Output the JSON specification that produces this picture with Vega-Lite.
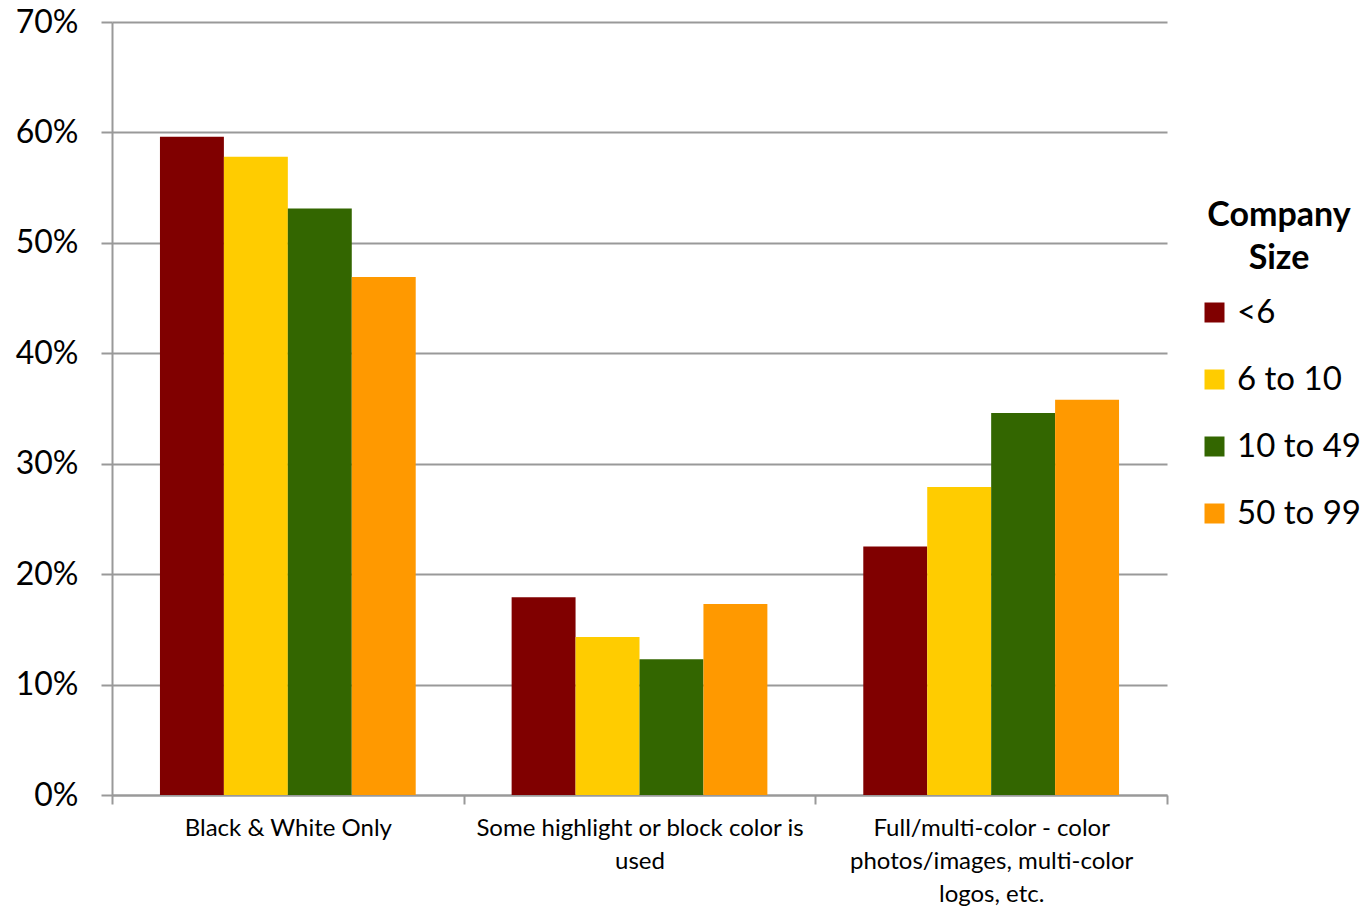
{
  "$schema": "https://vega.github.io/schema/vega-lite/v6.json",
  "autosize": "none",
  "width": 1055,
  "height": 773,
  "padding": {"left": 112, "top": 22, "right": 196, "bottom": 113},
  "background": "white",
  "data": {
    "values": [
      {"category": "Black & White Only", "size": "<6", "share": 0.596},
      {"category": "Black & White Only", "size": "6 to 10", "share": 0.578},
      {"category": "Black & White Only", "size": "10 to 49", "share": 0.531},
      {"category": "Black & White Only", "size": "50 to 99", "share": 0.469},
      {"category": "Some highlight or block color is used", "size": "<6", "share": 0.179},
      {"category": "Some highlight or block color is used", "size": "6 to 10", "share": 0.143},
      {"category": "Some highlight or block color is used", "size": "10 to 49", "share": 0.123},
      {"category": "Some highlight or block color is used", "size": "50 to 99", "share": 0.173},
      {"category": "Full/multi-color - color photos/images, multi-color logos, etc.", "size": "<6", "share": 0.225},
      {"category": "Full/multi-color - color photos/images, multi-color logos, etc.", "size": "6 to 10", "share": 0.279},
      {"category": "Full/multi-color - color photos/images, multi-color logos, etc.", "size": "10 to 49", "share": 0.346},
      {"category": "Full/multi-color - color photos/images, multi-color logos, etc.", "size": "50 to 99", "share": 0.358}
    ]
  },
  "mark": {"type": "bar"},
  "encoding": {
    "x": {
      "field": "category",
      "type": "nominal",
      "sort": null,
      "scale": {"paddingInner": 0, "paddingOuter": 0},
      "axis": {
        "title": null,
        "labelAngle": 0,
        "labelFont": "Lato",
        "labelFontSize": 24,
        "labelColor": "#000000",
        "labelLineHeight": 33,
        "labelPadding": 12,
        "labelLimit": 400,
        "labelExpr": "datum.value == 'Some highlight or block color is used' ? ['Some highlight or block color is', 'used'] : datum.value == 'Full/multi-color - color photos/images, multi-color logos, etc.' ? ['Full/multi-color - color', 'photos/images, multi-color', 'logos, etc.'] : datum.value",
        "tickBand": "extent",
        "tickSize": 9,
        "tickColor": "#999999",
        "tickWidth": 2,
        "domainColor": "#999999",
        "domainWidth": 2,
        "grid": false
      }
    },
    "xOffset": {
      "field": "size",
      "type": "nominal",
      "sort": ["<6", "6 to 10", "10 to 49", "50 to 99"],
      "scale": {"paddingInner": 0, "paddingOuter": 0.75}
    },
    "y": {
      "field": "share",
      "type": "quantitative",
      "scale": {"domain": [0, 0.7], "nice": false},
      "axis": {
        "title": null,
        "format": ".0%",
        "values": [0, 0.1, 0.2, 0.3, 0.4, 0.5, 0.6, 0.7],
        "labelFont": "Lato",
        "labelFontSize": 32,
        "labelColor": "#000000",
        "labelPadding": 23,
        "tickSize": 11,
        "tickColor": "#999999",
        "tickWidth": 2,
        "domainColor": "#999999",
        "domainWidth": 2,
        "grid": true,
        "gridColor": "#999999",
        "gridWidth": 2
      }
    },
    "color": {
      "field": "size",
      "type": "nominal",
      "sort": ["<6", "6 to 10", "10 to 49", "50 to 99"],
      "scale": {
        "domain": ["<6", "6 to 10", "10 to 49", "50 to 99"],
        "range": ["#800000", "#FFCC00", "#336600", "#FF9900"]
      },
      "legend": {
        "title": ["Company", "Size"],
        "orient": "none",
        "legendX": 1086,
        "legendY": 177,
        "titleFont": "Lato",
        "titleFontSize": 34,
        "titleFontWeight": "bold",
        "titleColor": "#000000",
        "titleAnchor": "middle",
        "titleAlign": "center",
        "titleLineHeight": 43,
        "titlePadding": 20,
        "labelFont": "Lato",
        "labelFontSize": 33,
        "labelColor": "#000000",
        "labelOffset": 6,
        "symbolType": "square",
        "symbolSize": 400,
        "symbolStrokeWidth": 0,
        "rowPadding": 33
      }
    }
  },
  "config": {
    "view": {"stroke": null},
    "axis": {"labelFont": "Lato"}
  }
}
